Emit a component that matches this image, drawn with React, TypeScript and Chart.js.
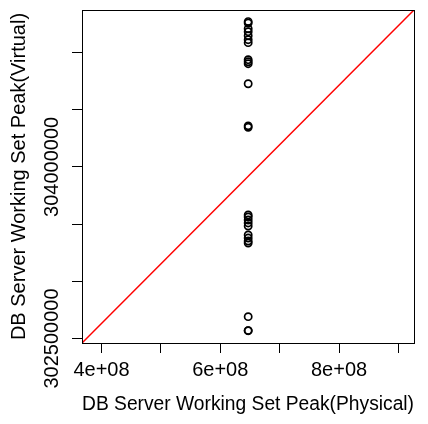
import React, { useEffect, useRef } from "react";
import { Chart, registerables } from "chart.js";

Chart.register(...registerables);

// Working set peak of the DB server, physical vs virtual (bytes)
const physicalPeak = [
  647000000, 647000000, 647000000, 647000000, 647000000, 647000000, 647000000,
  647000000, 647000000, 647000000, 647000000, 647000000, 647000000, 647000000,
  647000000, 647000000, 647000000, 647000000, 647000000, 647000000, 647000000,
  647000000, 647000000, 647000000, 647000000,
];
const virtualPeak = [
  305270000, 305257000, 305208000, 305182000, 305147000, 305112000, 305086000,
  304937000, 304919000, 304902000, 304727000, 304359000, 304346000, 303580000,
  303562000, 303536000, 303510000, 303483000, 303405000, 303378000, 303352000,
  303335000, 302691000, 302568000, 302569000,
];

const xTicks = [400000000, 500000000, 600000000, 700000000, 800000000, 900000000];
const xTickLabels = ["4e+08", "", "6e+08", "", "8e+08", ""];
const yTicks = [302500000, 303000000, 303500000, 304000000, 304500000, 305000000];
const yTickLabels = ["302500000", "", "", "304000000", "", ""];

const xRange = [367200000, 926200000];
const yRange = [302460700, 305371500];

// Reference diagonal across the plotting region
const diagonalX = [xRange[0], xRange[1]];
const diagonalY = [yRange[0], yRange[1]];

const FONT = '"Liberation Sans", Arial, Helvetica, sans-serif';

const framePlugin = {
  id: "frame",
  afterDatasetsDraw(chart: any) {
    const { ctx, chartArea } = chart;
    const { left, top, right, bottom } = chartArea;
    ctx.save();
    ctx.strokeStyle = "#000000";
    ctx.lineWidth = 1;
    ctx.strokeRect(left + 0.5, top + 0.5, right - left, bottom - top);
    ctx.restore();
  },
};

export default function App() {
  const canvasRef = useRef<HTMLCanvasElement | null>(null);

  useEffect(() => {
    const canvas = canvasRef.current;
    if (!canvas) return;

    const points = physicalPeak.map((x, i) => ({ x, y: virtualPeak[i] }));
    const diagonal = diagonalX.map((x, i) => ({ x, y: diagonalY[i] }));

    const chart = new Chart(canvas, {
      type: "scatter",
      data: {
        datasets: [
          {
            type: "scatter",
            data: points,
            pointStyle: "circle",
            pointRadius: 3.6,
            pointBorderWidth: 1.7,
            pointBorderColor: "#000000",
            pointBackgroundColor: "rgba(0,0,0,0)",
            showLine: false,
          },
          {
            type: "line",
            data: diagonal,
            borderColor: "#ff0000",
            borderWidth: 1.5,
            pointRadius: 0,
            fill: false,
            tension: 0,
          },
        ],
      },
      options: {
        responsive: false,
        animation: false,
        events: [],
        layout: { padding: { top: 10, right: 14, left: 0, bottom: 0 } },
        plugins: {
          legend: { display: false },
          tooltip: { enabled: false },
        },
        scales: {
          x: {
            type: "linear",
            position: "bottom",
            min: xRange[0],
            max: xRange[1],
            afterBuildTicks: (scale: any) => {
              scale.ticks = xTicks.map((value) => ({ value }));
            },
            afterFit: (scale: any) => {
              scale.height = 81;
            },
            border: { display: false },
            grid: {
              drawOnChartArea: false,
              drawTicks: true,
              tickLength: 10,
              tickColor: "#000000",
              tickWidth: 1,
            },
            ticks: {
              autoSkip: false,
              minRotation: 0,
              maxRotation: 0,
              padding: 7,
              color: "#000000",
              font: { family: FONT, size: 20, lineHeight: 1 },
              callback: (value: any) => {
                const i = xTicks.indexOf(Number(value));
                return i >= 0 ? xTickLabels[i] : "";
              },
            },
            title: {
              display: true,
              text: "DB Server Working Set Peak(Physical)",
              color: "#000000",
              font: { family: FONT, size: 20, lineHeight: 1 },
              padding: { top: 0, bottom: 10 },
            },
          },
          y: {
            type: "linear",
            position: "left",
            min: yRange[0],
            max: yRange[1],
            afterBuildTicks: (scale: any) => {
              scale.ticks = yTicks.map((value) => ({ value }));
            },
            afterFit: (scale: any) => {
              scale.width = 82;
            },
            border: { display: false },
            grid: {
              drawOnChartArea: false,
              drawTicks: true,
              tickLength: 10,
              tickColor: "#000000",
              tickWidth: 1,
            },
            ticks: {
              autoSkip: false,
              minRotation: 90,
              maxRotation: 90,
              crossAlign: "center",
              padding: -31,
              color: "#000000",
              font: { family: FONT, size: 20, lineHeight: 1 },
              callback: (value: any) => {
                const i = yTicks.indexOf(Number(value));
                return i >= 0 ? yTickLabels[i] : "";
              },
            },
            title: {
              display: true,
              text: "DB Server Working Set Peak(Virtual)",
              color: "#000000",
              font: { family: FONT, size: 20, lineHeight: 1 },
              padding: { top: 9, bottom: 0 },
            },
          },
        },
      },
      plugins: [framePlugin],
    } as any);

    return () => chart.destroy();
  }, []);

  return (
    <div style={{ position: "absolute", left: 0, top: 0, width: 428, height: 424, background: "#ffffff" }}>
      <canvas ref={canvasRef} width={428} height={424} style={{ display: "block" }} />
    </div>
  );
}
